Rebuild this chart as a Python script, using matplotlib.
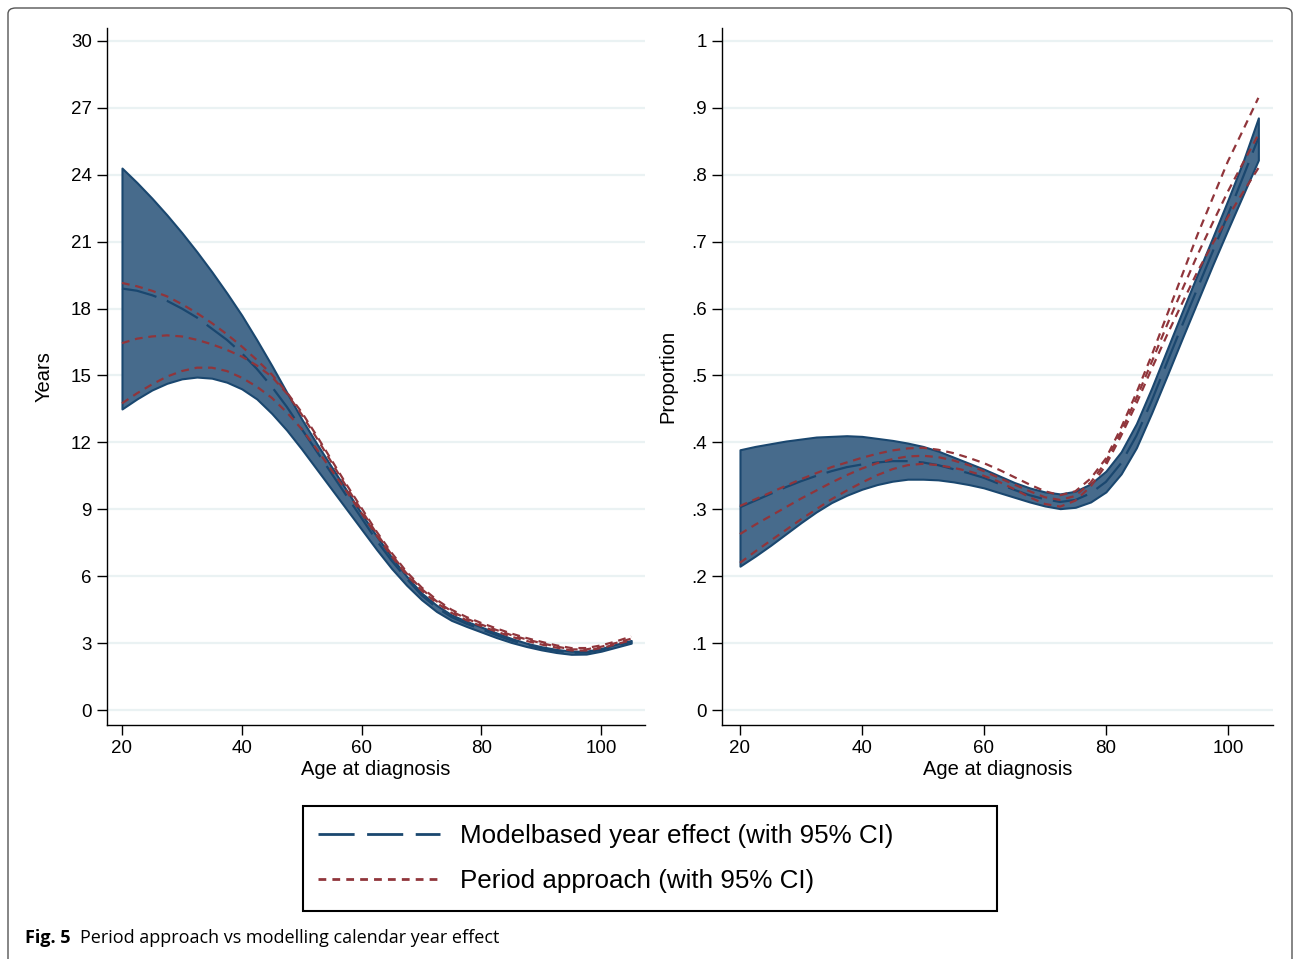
import matplotlib
matplotlib.use('Agg')
import matplotlib.pyplot as plt
from matplotlib.lines import Line2D
from matplotlib.patches import FancyBboxPatch, Rectangle

plt.rcParams['font.family'] = ['Liberation Sans', 'DejaVu Sans']

# left panel: years
age_l = [20, 22.5, 25, 27.5, 30, 32.5, 35, 37.5, 40, 42.5, 45, 47.5, 50, 52.5, 55, 57.5, 60, 62.5,
         65, 67.5, 70, 72.5, 75, 77.5, 80, 82.5, 85, 87.5, 90, 92.5, 95, 97.5, 100, 102.5, 105]
mod_hi_l = [24.3, 23.65, 22.95, 22.2, 21.4, 20.55, 19.65, 18.7, 17.7, 16.6, 15.45, 14.25, 13.05, 11.95,
            10.9, 9.85, 8.8, 7.8, 6.85, 6.0, 5.25, 4.7, 4.27, 3.98, 3.72, 3.46, 3.21, 3.0, 2.84, 2.72,
            2.64, 2.64, 2.76, 2.95, 3.12]
mod_lo_l = [13.5, 13.95, 14.35, 14.65, 14.85, 14.93, 14.88, 14.7, 14.4, 13.95, 13.3, 12.55, 11.7, 10.8,
            9.9, 9.0, 8.1, 7.2, 6.35, 5.6, 4.95, 4.42, 4.02, 3.75, 3.5, 3.25, 3.03, 2.85, 2.7, 2.58,
            2.5, 2.51, 2.64, 2.82, 3.0]
mod_mid_l = [18.9, 18.8, 18.6, 18.35, 18.0, 17.6, 17.1, 16.6, 16.0, 15.3, 14.5, 13.6, 12.6, 11.6, 10.6,
             9.6, 8.6, 7.6, 6.7, 5.9, 5.15, 4.6, 4.17, 3.87, 3.62, 3.36, 3.12, 2.93, 2.77, 2.65, 2.57,
             2.58, 2.7, 2.89, 3.06]
per_hi_l = [19.15, 19.0, 18.8, 18.55, 18.2, 17.8, 17.35, 16.85, 16.3, 15.7, 15.05, 14.25, 13.35, 12.3,
            11.2, 10.1, 9.05, 8.0, 7.05, 6.2, 5.5, 4.95, 4.5, 4.17, 3.9, 3.66, 3.43, 3.23, 3.06, 2.9,
            2.78, 2.78, 2.9, 3.08, 3.3]
per_mid_l = [16.45, 16.65, 16.75, 16.8, 16.75, 16.6, 16.4, 16.15, 15.85, 15.45, 14.95, 14.2, 13.25,
             12.2, 11.1, 10.0, 8.95, 7.92, 6.97, 6.13, 5.43, 4.88, 4.43, 4.1, 3.83, 3.59, 3.36, 3.17,
             3.0, 2.85, 2.72, 2.72, 2.84, 3.01, 3.2]
per_lo_l = [13.75, 14.2, 14.6, 14.95, 15.2, 15.35, 15.35, 15.2, 14.9, 14.5, 14.0, 13.35, 12.6, 11.7,
            10.75, 9.8, 8.82, 7.83, 6.9, 6.06, 5.36, 4.81, 4.36, 4.03, 3.76, 3.52, 3.29, 3.1, 2.94,
            2.8, 2.67, 2.67, 2.78, 2.95, 3.13]

# right panel: proportion
age_r = age_l
mod_hi_r = [0.389, 0.394, 0.398, 0.402, 0.405, 0.408, 0.409, 0.410, 0.409, 0.406, 0.403, 0.399, 0.394,
            0.387, 0.378, 0.369, 0.360, 0.350, 0.340, 0.332, 0.326, 0.323, 0.327, 0.338, 0.357, 0.386,
            0.428, 0.481, 0.538, 0.595, 0.651, 0.706, 0.762, 0.820, 0.885]
mod_lo_r = [0.215, 0.230, 0.246, 0.263, 0.280, 0.296, 0.310, 0.321, 0.330, 0.337, 0.342, 0.345, 0.345,
            0.344, 0.341, 0.337, 0.332, 0.325, 0.318, 0.311, 0.305, 0.301, 0.303, 0.311, 0.326, 0.353,
            0.392, 0.444, 0.499, 0.555, 0.610, 0.665, 0.718, 0.770, 0.822]
mod_mid_r = [0.303, 0.313, 0.323, 0.333, 0.342, 0.350, 0.357, 0.363, 0.367, 0.370, 0.372, 0.372, 0.370,
             0.366, 0.360, 0.354, 0.347, 0.338, 0.329, 0.321, 0.315, 0.311, 0.314, 0.324, 0.341, 0.369,
             0.410, 0.462, 0.519, 0.575, 0.630, 0.685, 0.740, 0.797, 0.855]
per_hi_r = [0.305, 0.315, 0.325, 0.335, 0.345, 0.354, 0.363, 0.370, 0.377, 0.383, 0.388, 0.391, 0.392,
            0.389, 0.384, 0.377, 0.369, 0.359, 0.348, 0.337, 0.327, 0.321, 0.327, 0.346, 0.376, 0.422,
            0.474, 0.530, 0.590, 0.650, 0.710, 0.765, 0.820, 0.867, 0.915]
per_mid_r = [0.263, 0.277, 0.290, 0.303, 0.316, 0.328, 0.340, 0.351, 0.361, 0.369, 0.375, 0.379, 0.380,
             0.378, 0.373, 0.366, 0.357, 0.347, 0.337, 0.327, 0.318, 0.314, 0.320, 0.340, 0.371, 0.416,
             0.466, 0.520, 0.575, 0.628, 0.680, 0.728, 0.775, 0.818, 0.860]
per_lo_r = [0.220, 0.237, 0.253, 0.269, 0.285, 0.300, 0.315, 0.328, 0.340, 0.351, 0.360, 0.366, 0.368,
            0.366, 0.362, 0.357, 0.350, 0.341, 0.330, 0.318, 0.308, 0.304, 0.313, 0.334, 0.366, 0.410,
            0.458, 0.510, 0.560, 0.608, 0.655, 0.697, 0.737, 0.774, 0.810]

yt_l = list(range(0, 31, 3))
yt_r = [i / 10 for i in range(11)]
yt_r_lab = ['0', '.1', '.2', '.3', '.4', '.5', '.6', '.7', '.8', '.9', '1']
xt = [20, 40, 60, 80, 100]

navy = '#1a476f'
fill = '#476b8c'
maroon = '#90353b'
grid = '#eaf2f3'

fig = plt.figure(figsize=(12.94, 9.59), dpi=100)
W, H = 1294, 959

frame = FancyBboxPatch((8 / W, -0.05), 1284 / W, 1.05 - 8 / H,
                       boxstyle='round,pad=0,rounding_size=0.006',
                       transform=fig.transFigure, facecolor='white',
                       edgecolor='#555555', linewidth=1.0, zorder=-5)
fig.patches.append(frame)


def panel(ax, x, lo, hi, mid, plo, pmid, phi):
    ax.fill_between(x, lo, hi, facecolor=fill, edgecolor=navy, linewidth=1.5, zorder=2)
    ax.plot(x, mid, color=navy, lw=1.6, ls=(0, (16, 5)), zorder=3)
    for s in (plo, pmid, phi):
        ax.plot(x, s, color=maroon, lw=1.6, ls=(0, (3.5, 2.6)), zorder=4)
    for sp in ('top', 'right'):
        ax.spines[sp].set_visible(False)
    ax.spines['left'].set_linewidth(1.0)
    ax.spines['bottom'].set_linewidth(1.0)
    ax.yaxis.grid(True, color=grid, lw=1.6, zorder=0)
    ax.set_axisbelow(True)
    ax.tick_params(length=7, width=1.0, labelsize=13.5, pad=4)
    ax.set_xticks(xt)
    ax.set_xlabel('Age at diagnosis', fontsize=14.5, labelpad=2)


axl = fig.add_axes([107 / W, 1 - 725 / H, 538 / W, 697 / H])
panel(axl, age_l, mod_lo_l, mod_hi_l, mod_mid_l, per_lo_l, per_mid_l, per_hi_l)
axl.set_xlim(17.5, 107.3)
axl.set_ylim(-0.67, 30.58)
axl.set_yticks(yt_l)
axl.set_ylabel('Years', fontsize=14.5, labelpad=12)

axr = fig.add_axes([722 / W, 1 - 725 / H, 551 / W, 697 / H])
panel(axr, age_r, mod_lo_r, mod_hi_r, mod_mid_r, per_lo_r, per_mid_r, per_hi_r)
axr.set_xlim(17.05, 107.4)
axr.set_ylim(-0.0224, 1.0194)
axr.set_yticks(yt_r)
axr.set_yticklabels(yt_r_lab)
axr.set_ylabel('Proportion', fontsize=14.5, labelpad=10)

# legend box (Stata draws it wider than its content)
fig.patches.append(Rectangle((303 / W, 1 - 911 / H), 694 / W, 105 / H, transform=fig.transFigure,
                             facecolor='white', edgecolor='black', linewidth=1.5))
handles = [Line2D([], [], color=navy, lw=2.0, ls=(0, (13, 4.5))),
           Line2D([], [], color=maroon, lw=2.0, ls=(0, (2.8, 2.2)))]
fig.legend(handles, ['Modelbased year effect (with 95% CI)', 'Period approach (with 95% CI)'],
           loc='center left', bbox_to_anchor=(318 / W, 1 - 858.5 / H), fontsize=18.7,
           frameon=False, handlelength=4.7, handletextpad=0.77, borderpad=0,
           labelspacing=0.84, borderaxespad=0)

fig.text(25 / W, 1 - 938 / H, 'Fig. 5', fontsize=13, fontweight='bold',
         family=['Open Sans', 'DejaVu Sans'], va='center')
fig.text(80 / W, 1 - 938 / H, 'Period approach vs modelling calendar year effect', fontsize=13,
         family=['Open Sans', 'DejaVu Sans'], va='center')

fig.savefig('out.png', dpi=100)
